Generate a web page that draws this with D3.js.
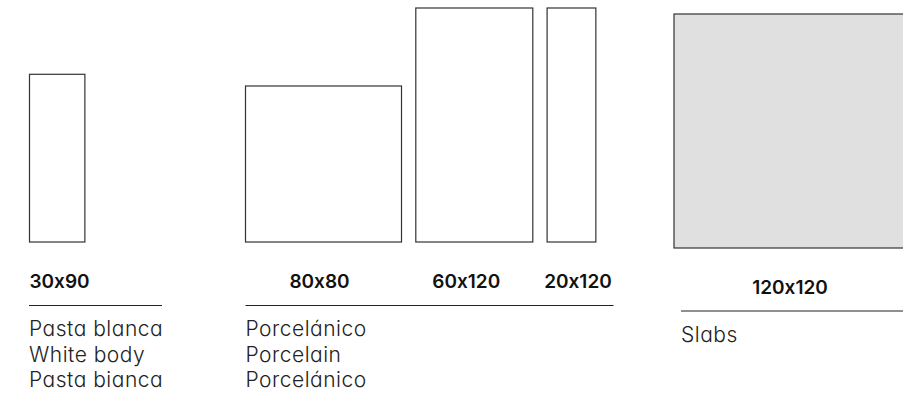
<!DOCTYPE html>
<html>
<head>
<meta charset="utf-8">
<script src="https://cdn.jsdelivr.net/npm/d3@7"></script>
<style>
  body { margin: 0; background: #fff; }
  svg { display: block; font-family: Inter, "Noto Sans", sans-serif; font-feature-settings: "cv11" 1, "calt" 0; }
</style>
</head>
<body>
<div id="chart"></div>
<script>
// tile formats (label), drawn size in cm
const formats = ['30x90', '80x80', '60x120', '20x120', '120x120'];
const tileW = [28.4, 80, 60, 25, 120];
const tileH = [86, 80, 120, 120, 120];
const tileGroup = [0, 1, 1, 1, 2];
const tileFill = ['#fff', '#fff', '#fff', '#fff', '#e0e0e0'];

// material descriptions per group
const groupText = [
    ['Pasta blanca', 'White body', 'Pasta bianca'],
    ['Porcelánico', 'Porcelain', 'Porcelánico'],
    ['Slabs']
];

const width = 903;
const height = 394;
const gap = 14.3; // space between tiles in the same group

// group layout: left edge, tile bottom, label baseline, divider y, divider ends
const groupLayout = [
    {x: 29.5, bottom: 242, label: 287.5, rule: 305.5, r0: 29, r1: 162, text0: 29},
    {x: 245.5, bottom: 242, label: 287.5, rule: 305.5, r0: 245.5, r1: 613.5, text0: 245.5},
    {x: 674, bottom: 248, label: 293.5, rule: 311, r0: 681, r1: 910, text0: 681}
];
const labelDx = [0, -4, -8, 6.5, -1];

const s = d3.scaleLinear().domain([0, 120]).range([0, 234]);

const tiles = formats.map((f, i) => ({f, w: tileW[i], h: tileH[i], g: tileGroup[i], fill: tileFill[i], i}));
// x position: stack tiles inside their group
const cursor = groupLayout.map(g => g.x);
tiles.forEach(t => {
    t.x = cursor[t.g];
    cursor[t.g] += s(t.w) + gap;
});

const svg = d3.select('#chart').append('svg')
    .attr('width', width)
    .attr('height', height);

svg.selectAll('rect.tile')
    .data(tiles)
    .join('rect')
    .attr('class', 'tile')
    .attr('x', d => d.x)
    .attr('y', d => groupLayout[d.g].bottom - s(d.h))
    .attr('width', d => s(d.w))
    .attr('height', d => s(d.h))
    .style('fill', d => d.fill)
    .style('stroke', '#333')
    .style('stroke-width', 1.2);

svg.selectAll('text.format')
    .data(tiles)
    .join('text')
    .attr('class', 'format')
    .attr('x', d => d.g === 0 ? d.x : d.x + s(d.w) / 2 + labelDx[d.i])
    .attr('y', d => groupLayout[d.g].label)
    .attr('text-anchor', d => d.g === 0 ? 'start' : 'middle')
    .style('font-size', '19px')
    .style('font-weight', 600)
    .style('fill', '#111')
    .text(d => d.f);

svg.selectAll('line.rule')
    .data(groupLayout)
    .join('line')
    .attr('class', 'rule')
    .attr('x1', d => d.r0)
    .attr('x2', d => d.r1)
    .attr('y1', d => d.rule)
    .attr('y2', d => d.rule)
    .style('stroke', '#222')
    .style('stroke-width', 1.2);

const desc = svg.selectAll('text.desc')
    .data(groupText)
    .join('text')
    .attr('class', 'desc')
    .attr('x', (d, i) => groupLayout[i].text0)
    .attr('y', (d, i) => groupLayout[i].rule + 30.5)
    .style('font-size', '21px')
    .style('letter-spacing', '0.5px')
    .style('font-weight', 300)
    .style('fill', '#222');

desc.selectAll('tspan')
    .data(d => d)
    .join('tspan')
    .attr('x', function() { return this.parentNode.getAttribute('x'); })
    .attr('dy', (d, i) => i === 0 ? 0 : 25.7)
    .text(d => d);
</script>
</body>
</html>
